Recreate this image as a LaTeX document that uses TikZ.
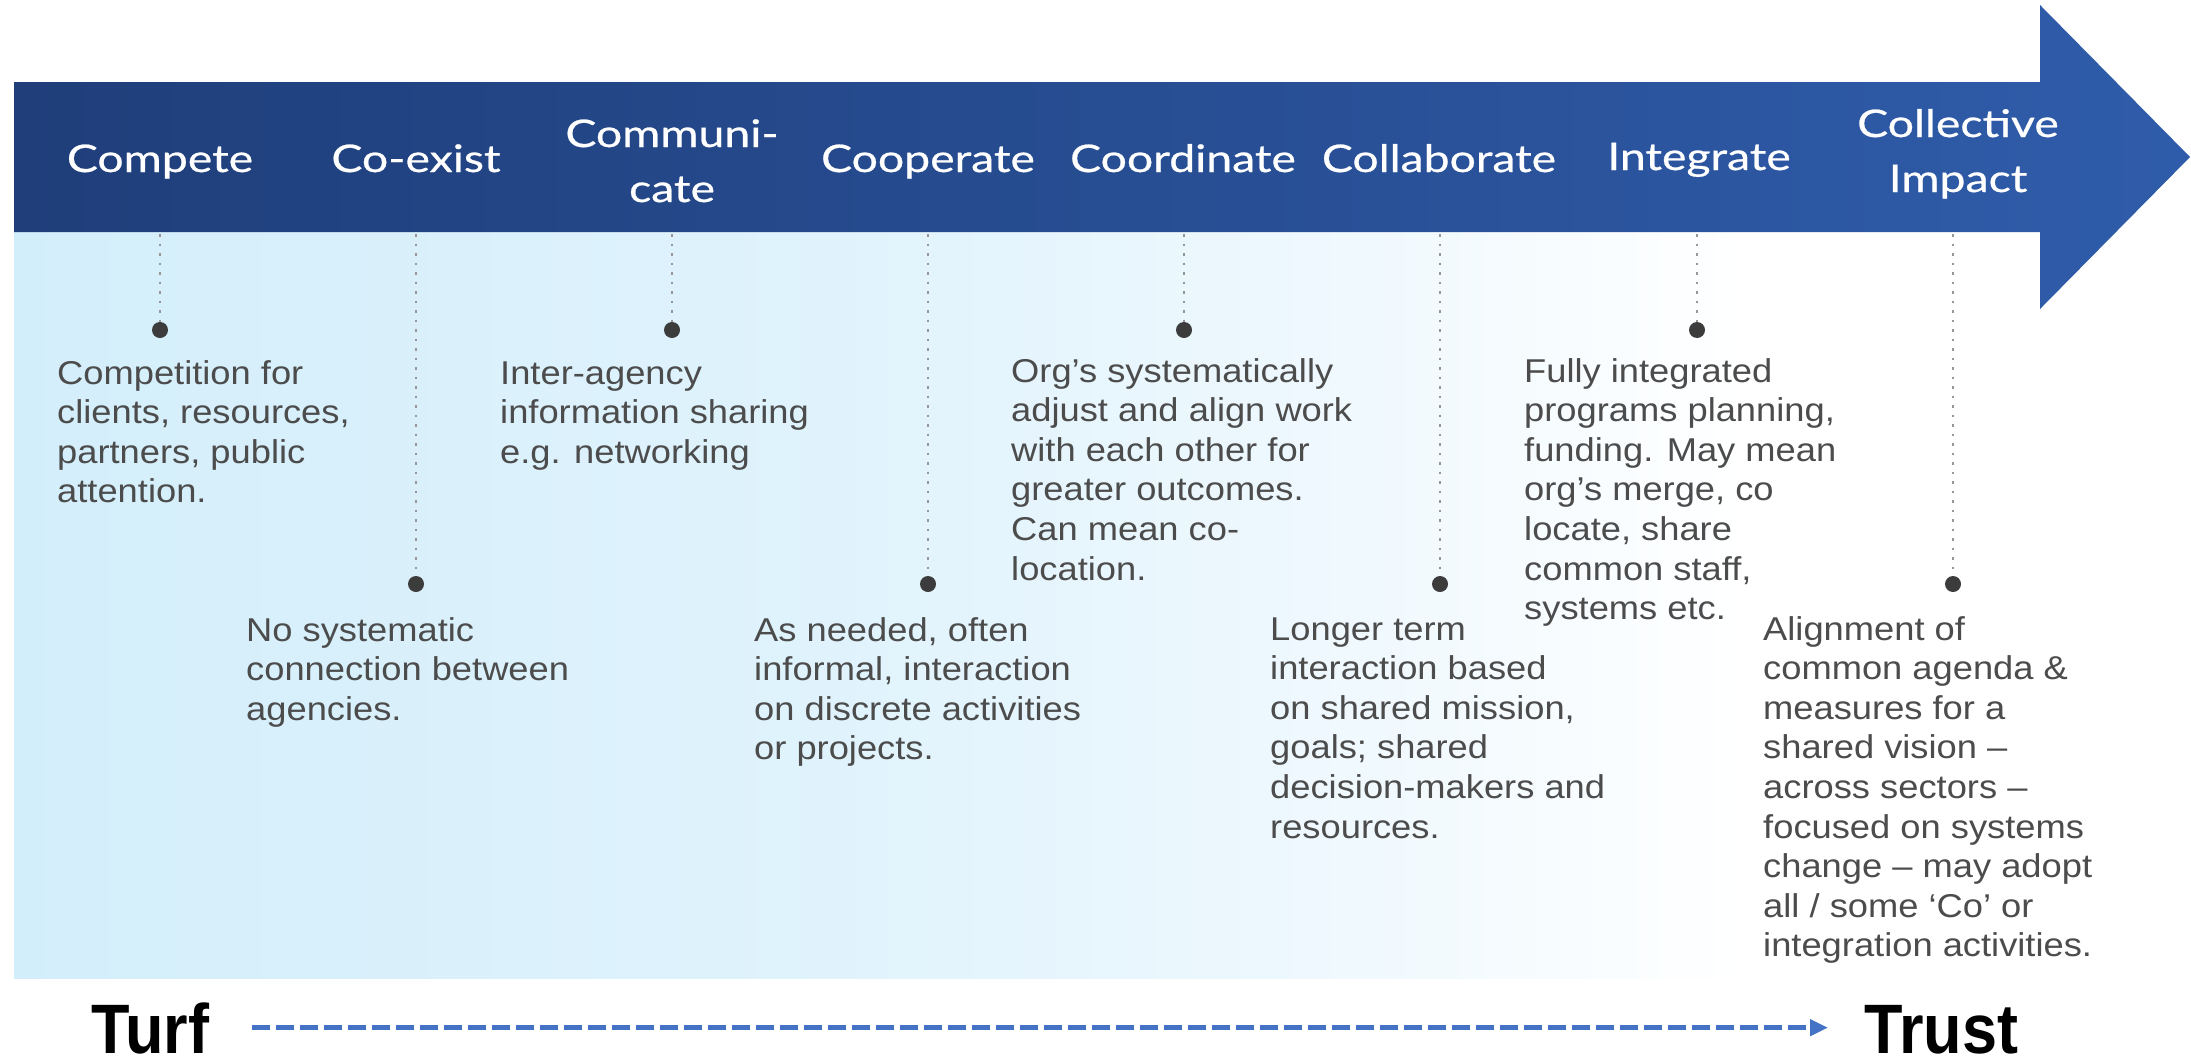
\documentclass[tikz,border=0pt]{standalone}
\usepackage{fontspec}
\usetikzlibrary{arrows.meta}
\newfontfamily\hdfont{Lato}[FakeStretch=1.22,FakeBold=0.6]
\newfontfamily\bdfont{Liberation Sans}[FakeStretch=1.1]
\newfontfamily\tbfont{Liberation Sans}[FakeStretch=0.9]
\definecolor{arrowL}{RGB}{31,62,122}
\definecolor{arrowR}{RGB}{47,92,170}
\definecolor{panelL}{RGB}{211,238,251}
\definecolor{panelM}{RGB}{224,243,252}
\definecolor{panelN}{RGB}{240,249,254}
\definecolor{bodygray}{RGB}{76,76,76}
\definecolor{dotgray}{RGB}{60,60,60}
\definecolor{dotline}{RGB}{150,150,150}
\definecolor{lineblue}{RGB}{68,114,196}
\pgfdeclarehorizontalshading{panelshade}{100bp}{color(0bp)=(panelL); color(25bp)=(panelL); color(45bp)=(panelM); color(58bp)=(panelN); color(67bp)=(white); color(100bp)=(white)}
\begin{document}
\begin{tikzpicture}[x=1pt,y=-1pt,
  hdlabel/.style={text=white, font=\hdfont\fontsize{38}{55}\selectfont, anchor=base, align=center, inner sep=0pt},
  bodytext/.style={text=bodygray, font=\bdfont\fontsize{33}{39.6}\selectfont, anchor=base west, align=left, inner sep=0pt},
  stagedot/.style={circle, fill=dotgray, inner sep=0pt, minimum size=16pt},
  stageline/.style={draw=dotline, line width=2pt, dash pattern=on 2.5pt off 7pt},
  endword/.style={text=black, font=\tbfont\bfseries\fontsize{70}{84}\selectfont, anchor=base west, inner sep=0pt, text depth=0pt},
  turfline/.style={draw=lineblue, line width=5pt, dash pattern=on 18pt off 6pt, -{Triangle[length=18pt,width=16pt]}}
]
\useasboundingbox (0,0) rectangle (2191,1063);
\fill[white] (0,0) rectangle (2191,1063);
% light panel
\shade[shading=panelshade] (14,232) rectangle (2075,978);
% big arrow
\shade[left color=arrowL, right color=arrowR] (14,82) -- (2040,82) -- (2040,5) -- (2190,157) -- (2040,309) -- (2040,232) -- (14,232) -- cycle;
% stage labels (base anchor = baseline of last line)
\node[hdlabel] (h1) at (160,172) {Compete};
\node[hdlabel] (h2) at (416,172) {Co-exist};
\node[hdlabel] (h3) at (672,202) {Communi-\\cate};
\node[hdlabel] (h4) at (928,172) {Cooperate};
\node[hdlabel] (h5) at (1183,172) {Coordinate};
\node[hdlabel] (h6) at (1439,172) {Collaborate};
\node[hdlabel] (h7) at (1699,170) {Integrate};
\node[hdlabel] (h8) at (1958,192) {Collective\\Impact};
% dotted leaders and dots
\coordinate (t1) at (160,234);
\coordinate (t2) at (416,234);
\coordinate (t3) at (672,234);
\coordinate (t4) at (928,234);
\coordinate (t5) at (1184,234);
\coordinate (t6) at (1440,234);
\coordinate (t7) at (1697,234);
\coordinate (t8) at (1953,234);
\node[stagedot] (d1) at (160,330) {};
\node[stagedot] (d2) at (416,584) {};
\node[stagedot] (d3) at (672,330) {};
\node[stagedot] (d4) at (928,584) {};
\node[stagedot] (d5) at (1184,330) {};
\node[stagedot] (d6) at (1440,584) {};
\node[stagedot] (d7) at (1697,330) {};
\node[stagedot] (d8) at (1953,584) {};
\foreach \i in {1,...,8} {\draw[stageline] (t\i) -- (d\i);}
% descriptions (base anchor = baseline of last line)
\node[bodytext] (b1) at (57,502.8) {Competition for\\clients, resources,\\partners, public\\attention.};
\node[bodytext] (b2) at (246,720.2) {No systematic\\connection between\\agencies.};
\node[bodytext] (b3) at (500,463.2) {Inter-agency\\information sharing\\e.g. networking};
\node[bodytext] (b4) at (754,759.8) {As needed, often\\informal, interaction\\on discrete activities\\or projects.};
\node[bodytext] (b5) at (1011,580) {Org’s systematically\\adjust and align work\\with each other for\\greater outcomes.\\Can mean co-\\location.};
\node[bodytext] (b6) at (1270,838) {Longer term\\interaction based\\on shared mission,\\goals; shared\\decision-makers and\\resources.};
\node[bodytext] (b7) at (1524,619.6) {Fully integrated\\programs planning,\\funding. May mean\\org’s merge, co\\locate, share\\common staff,\\systems etc.};
\node[bodytext] (b8) at (1763,956.8) {Alignment of\\common agenda \&\\measures for a\\shared vision –\\across sectors –\\focused on systems\\change – may adopt\\all / some ‘Co’ or\\integration activities.};
% turf to trust
\node[endword] (turf) at (91,1053) {Turf};
\node[endword] (trust) at (1864,1053) {Trust};
\draw[turfline, shorten <=43pt, shorten >=36pt] (turf.east) -- (turf.east -| trust.west);
\end{tikzpicture}
\end{document}
